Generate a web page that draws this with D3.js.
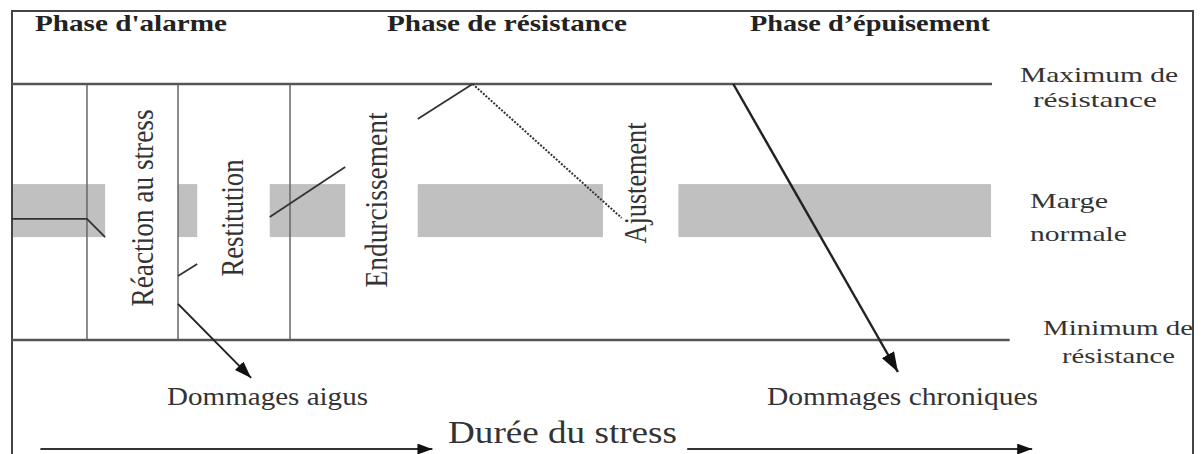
<!DOCTYPE html>
<html>
<head>
<meta charset="utf-8">
<script src="https://cdn.jsdelivr.net/npm/d3@7"></script>
<style>
  html, body { margin: 0; padding: 0; background: #fff; }
  svg text { font-family: "Liberation Serif", "Times New Roman", serif; fill: #222; }
</style>
</head>
<body>
<svg id="stress" width="1202" height="454"></svg>
<script>
// diagram units: x = duration of stress (0..100), y = resistance level (0 = minimum, 100 = maximum)
const phaseNames = ["Phase d'alarme", "Phase de résistance", "Phase d’épuisement"];
const stageNames = ["Réaction au stress", "Restitution", "Endurcissement", "Ajustement"];
const phaseDividers = [7.65, 16.94, 28.37];
const normalRange = [40.2, 60.9];
const normalBands = [[0, 9.5], [16.94, 18.9], [26.3, 34.0], [41.4, 60.3], [68.0, 99.9]];
const levelLines = [[100, 100], [0, 101.8]];   // [level, end of line]

const baselineCurve = [[0, 47.3], [7.65, 47.3], [9.5, 40.2]];
const reactionTick = [[16.94, 25.0], [18.9, 29.7]];
const hardeningLow = [[26.3, 48.0], [34.0, 67.6]];
const hardeningHigh = [[41.4, 86.3], [47.0, 100]];
const adjustmentPath = [[47.0, 100], [62.2, 47.7]];
const acuteArrow = [[16.94, 14.1], [24.4, -14.8]];
const chronicArrow = [[73.6, 100], [90.4, -12.5]];
const durationArrows = [[[2.9, -42.6], [42.9, -42.6]], [[68.9, -42.6], [104.1, -42.6]]];

const svg = d3.select("#stress");
const width = +svg.attr("width");
const height = +svg.attr("height");

const x = d3.scaleLinear().domain([0, 100]).range([12, 992]);
const y = d3.scaleLinear().domain([0, 100]).range([340, 84]);
const line = d3.line().x(d => x(d[0])).y(d => y(d[1]));

// arrow heads
const defs = svg.append("defs");
const addHead = (id, len, wid) => {
    defs.append("marker")
        .attr("id", id)
        .attr("markerUnits", "userSpaceOnUse")
        .attr("viewBox", `0 0 ${len} ${wid}`)
        .attr("refX", len).attr("refY", wid / 2)
        .attr("markerWidth", len).attr("markerHeight", wid)
        .attr("orient", "auto")
        .append("path")
        .attr("d", `M0,0 L${len},${wid / 2} L0,${wid} Z`)
        .attr("fill", "#111");
};
addHead("headBig", 20, 14);
addHead("headMid", 17, 12);
addHead("headSmall", 15, 11);

// grey bands = normal margin
svg.selectAll("rect.band")
    .data(normalBands)
    .enter().append("rect")
    .attr("class", "band")
    .attr("x", d => x(d[0]))
    .attr("y", y(normalRange[1]))
    .attr("width", d => x(d[1]) - x(d[0]))
    .attr("height", y(normalRange[0]) - y(normalRange[1]))
    .attr("fill", "#c0c0c0");

// frame
svg.append("rect")
    .attr("x", 12).attr("y", 11)
    .attr("width", 1181).attr("height", height + 20)
    .attr("fill", "none").attr("stroke", "#444").attr("stroke-width", 2);

// phase dividers
svg.selectAll("line.divider")
    .data(phaseDividers)
    .enter().append("line")
    .attr("x1", d => x(d)).attr("x2", d => x(d))
    .attr("y1", y(100)).attr("y2", y(0))
    .attr("stroke", "#666").attr("stroke-width", 1.5);

// max / min resistance lines
svg.selectAll("line.level")
    .data(levelLines)
    .enter().append("line")
    .attr("x1", x(0)).attr("x2", d => x(d[1]))
    .attr("y1", d => y(d[0])).attr("y2", d => y(d[0]))
    .attr("stroke", "#555").attr("stroke-width", 2.5);

// response curves
[baselineCurve, reactionTick, hardeningLow, hardeningHigh].forEach(pts => {
    svg.append("path")
        .attr("d", line(pts))
        .attr("fill", "none")
        .attr("stroke", "#333").attr("stroke-width", 1.8);
});

svg.append("path")
    .attr("d", line(adjustmentPath))
    .attr("fill", "none")
    .attr("stroke", "#333").attr("stroke-width", 2)
    .attr("stroke-dasharray", "2,1.5");

svg.append("path")
    .attr("d", line(chronicArrow))
    .attr("stroke", "#222").attr("stroke-width", 2.4)
    .attr("marker-end", "url(#headBig)");

svg.append("path")
    .attr("d", line(acuteArrow))
    .attr("stroke", "#222").attr("stroke-width", 2)
    .attr("marker-end", "url(#headMid)");

durationArrows.forEach(pts => {
    svg.append("path")
        .attr("d", line(pts))
        .attr("stroke", "#333").attr("stroke-width", 2)
        .attr("marker-end", "url(#headSmall)");
});

// phase titles
const phaseLayout = [[35, 192], [387, 240], [750, 240]];
svg.selectAll("text.phase")
    .data(phaseNames)
    .enter().append("text")
    .attr("x", (d, i) => phaseLayout[i][0])
    .attr("y", 31)
    .attr("textLength", (d, i) => phaseLayout[i][1])
    .attr("lengthAdjust", "spacingAndGlyphs")
    .style("font-size", "23px")
    .style("font-weight", "bold")
    .text(d => d);

// rotated stage labels [baseline x, centre y, length]; glyphs a bit wider like the scan
const stageLayout = [[153, 208, 197], [243, 218, 117], [387, 200, 175], [646, 183, 121]];
svg.selectAll("text.stage")
    .data(stageNames)
    .enter().append("text")
    .attr("transform", (d, i) => `translate(${stageLayout[i][0]},${stageLayout[i][1]}) scale(1.2,1) rotate(-90)`)
    .attr("text-anchor", "middle")
    .attr("textLength", (d, i) => stageLayout[i][2])
    .attr("lengthAdjust", "spacingAndGlyphs")
    .style("font-size", "26px")
    .style("fill", "#333")
    .text(d => d);

// right side + bottom labels [text, x, baseline, length, anchor, size]
const labels = [
    ["Maximum de", 1099, 82, 158, "middle", 22],
    ["résistance", 1095, 107, 124, "middle", 22],
    ["Marge", 1030, 208, 78, "start", 22],
    ["normale", 1030, 241, 97, "start", 22],
    ["Minimum de", 1043, 335, 150, "start", 22],
    ["résistance", 1062, 363, 113, "start", 22],
    ["Dommages aigus", 167, 405, 201, "start", 25],
    ["Dommages chroniques", 767, 405, 271, "start", 25],
    ["Durée du stress", 448, 443, 229, "start", 31]
];
svg.selectAll("text.label")
    .data(labels)
    .enter().append("text")
    .attr("x", d => d[1])
    .attr("y", d => d[2])
    .attr("textLength", d => d[3])
    .attr("lengthAdjust", "spacingAndGlyphs")
    .attr("text-anchor", d => d[4])
    .style("font-size", d => d[5] + "px")
    .style("fill", "#333")
    .text(d => d[0]);
</script>
</body>
</html>
